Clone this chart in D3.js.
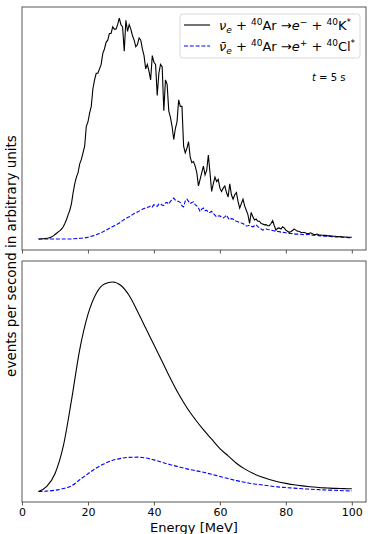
<!DOCTYPE html>
<html>
<head>
<meta charset="utf-8">
<script src="https://cdn.jsdelivr.net/npm/d3@7"></script>
<style>
  body { margin: 0; background: #fff; }
  text { font-family: "DejaVu Sans", sans-serif; }
</style>
</head>
<body>
<div id="chart"></div>
<script>
// energies of the noisy (top) spectrum, 0.5 MeV bins
const energyTop = d3.range(5, 100.01, 0.5);
// nu_e + Ar40 (top panel, relative to peak)
const nueTop = [
  0, 0, 0.001, 0.001, 0.002, 0.003, 0.004, 0.006, 0.01, 0.014,
  0.02, 0.026, 0.032, 0.038, 0.045, 0.055, 0.07, 0.088, 0.11, 0.13,
  0.16, 0.21, 0.25, 0.28, 0.3, 0.34, 0.36, 0.39, 0.42, 0.51,
  0.53, 0.57, 0.6, 0.68, 0.72, 0.75, 0.75, 0.77, 0.79, 0.84,
  0.86, 0.89, 0.9, 0.93, 0.93, 0.96, 0.95, 0.95, 0.97, 1.0,
  0.97, 0.96, 0.85, 0.99, 0.94, 0.97, 0.95, 0.92, 0.9, 0.87,
  0.88, 0.91, 0.9, 0.86, 0.83, 0.77, 0.79, 0.76, 0.72, 0.83,
  0.8, 0.79, 0.65, 0.75, 0.79, 0.78, 0.58, 0.72, 0.7, 0.58,
  0.55, 0.51, 0.45, 0.5, 0.53, 0.63, 0.6, 0.6, 0.42, 0.39,
  0.41, 0.44, 0.37, 0.345, 0.35, 0.33, 0.3, 0.24, 0.27, 0.3,
  0.33, 0.29, 0.31, 0.38, 0.3, 0.215, 0.25, 0.28, 0.26, 0.27,
  0.23, 0.215, 0.23, 0.24, 0.21, 0.19, 0.25, 0.2, 0.18, 0.2,
  0.21, 0.17, 0.14, 0.16, 0.18, 0.15, 0.13, 0.11, 0.07, 0.12,
  0.1, 0.086, 0.09, 0.08, 0.08, 0.07, 0.068, 0.064, 0.065, 0.06,
  0.06, 0.07, 0.083, 0.06, 0.04, 0.048, 0.05, 0.045, 0.055, 0.05,
  0.04, 0.035, 0.03, 0.033, 0.038, 0.045, 0.04, 0.035, 0.035, 0.03,
  0.028, 0.03, 0.027, 0.025, 0.025, 0.028, 0.024, 0.02, 0.02, 0.022,
  0.019, 0.018, 0.017, 0.016, 0.016, 0.015, 0.014, 0.014, 0.013, 0.012,
  0.012, 0.011, 0.01, 0.011, 0.01, 0.009, 0.009, 0.008, 0.008, 0.008,
  0.008
];
// anti nu_e + Ar40 (top panel)
const nuebarTop = [
  0, 0, 0, 0, 0, 0, 0, 0, 0, 0,
  0, 0, 0, 0, 0, 0, 0, 0, 0, 0,
  0, 0.001, 0.001, 0.002, 0.002, 0.003, 0.003, 0.004, 0.004, 0.006,
  0.008, 0.01, 0.012, 0.014, 0.016, 0.019, 0.022, 0.025, 0.028, 0.032,
  0.036, 0.04, 0.044, 0.048, 0.052, 0.056, 0.06, 0.064, 0.068, 0.072,
  0.077, 0.083, 0.088, 0.092, 0.097, 0.1, 0.105, 0.11, 0.115, 0.118,
  0.122, 0.126, 0.13, 0.134, 0.138, 0.14, 0.142, 0.146, 0.15, 0.145,
  0.155, 0.15, 0.148, 0.158, 0.16, 0.153, 0.152, 0.164, 0.165, 0.158,
  0.17, 0.178, 0.185, 0.176, 0.172, 0.17, 0.165, 0.15, 0.145, 0.172,
  0.18, 0.17, 0.16, 0.165, 0.168, 0.155, 0.15, 0.14, 0.124, 0.135,
  0.14, 0.128, 0.13, 0.12, 0.12, 0.125, 0.115, 0.108, 0.1, 0.104,
  0.105, 0.098, 0.095, 0.1, 0.108, 0.095, 0.086, 0.092, 0.09, 0.083,
  0.08, 0.078, 0.075, 0.072, 0.07, 0.064, 0.059, 0.06, 0.062, 0.058,
  0.055, 0.06, 0.064, 0.056, 0.05, 0.045, 0.04, 0.043, 0.045, 0.043,
  0.042, 0.04, 0.038, 0.036, 0.035, 0.034, 0.033, 0.031, 0.03, 0.029,
  0.028, 0.026, 0.025, 0.025, 0.024, 0.023, 0.022, 0.022, 0.022, 0.021,
  0.02, 0.019, 0.019, 0.02, 0.02, 0.018, 0.017, 0.017, 0.016, 0.016,
  0.015, 0.014, 0.013, 0.013, 0.012, 0.012, 0.011, 0.011, 0.01, 0.01,
  0.009, 0.009, 0.009, 0.008, 0.008, 0.008, 0.007, 0.007, 0.006, 0.006,
  0.006
];

// smooth (bottom) spectrum, 2.5 MeV steps
const energyBottom = d3.range(5, 100.1, 2.5);
const nueBottom = [
  0, 0.025, 0.085, 0.215, 0.435, 0.677, 0.845, 0.945, 0.99, 1.0,
  0.983, 0.935, 0.86, 0.78, 0.7, 0.62, 0.54, 0.465, 0.4, 0.345,
  0.295, 0.25, 0.205, 0.17, 0.135, 0.108, 0.087, 0.07, 0.057, 0.047,
  0.039, 0.032, 0.027, 0.023, 0.019, 0.017, 0.015, 0.014, 0.013
];
const nuebarBottom = [
  0, 0.002, 0.006, 0.014, 0.027, 0.056, 0.085, 0.112, 0.133, 0.149,
  0.158, 0.163, 0.164, 0.16, 0.151, 0.139, 0.128, 0.118, 0.108, 0.1,
  0.092, 0.082, 0.072, 0.062, 0.052, 0.044, 0.037, 0.032, 0.027, 0.022,
  0.019, 0.016, 0.013, 0.011, 0.009, 0.007, 0.006, 0.004, 0.003
];

const xTicks = [0, 20, 40, 60, 80, 100];

const W = 374, H = 534;
const left = 22, right = 366;

const svg = d3.select("#chart").append("svg")
    .attr("width", W).attr("height", H);

const x = d3.scaleLinear().domain([0, 104.3]).range([left, right]);

const panels = [
  {top: 7, bottom: 250, dom: [-0.05, 1.05], nue: nueTop, nuebar: nuebarTop, E: energyTop, curve: d3.curveLinear, labels: false},
  {top: 261, bottom: 502, dom: [-0.05, 1.1], nue: nueBottom, nuebar: nuebarBottom, E: energyBottom, curve: d3.curveMonotoneX, labels: true}
];

panels.forEach(function(p) {
    let y = d3.scaleLinear().domain(p.dom).range([p.bottom, p.top]);

    let line = d3.line()
        .x(function(d) { return x(d[0]); })
        .y(function(d) { return y(d[1]); })
        .curve(p.curve);

    svg.append("path")
        .datum(p.E.map(function(e, i) { return [e, p.nuebar[i]]; }))
        .attr("d", line)
        .attr("fill", "none")
        .attr("stroke", "#0000ff")
        .attr("stroke-width", 1.1)
        .attr("stroke-dasharray", "4,1.8");

    svg.append("path")
        .datum(p.E.map(function(e, i) { return [e, p.nue[i]]; }))
        .attr("d", line)
        .attr("fill", "none")
        .attr("stroke", "#000")
        .attr("stroke-width", 1.1);

    // frame
    svg.append("rect")
        .attr("x", left).attr("y", p.top)
        .attr("width", right - left).attr("height", p.bottom - p.top)
        .attr("fill", "none")
        .attr("stroke", "#444")
        .attr("stroke-width", 0.9);

    let ax = svg.append("g")
        .attr("transform", "translate(0," + p.bottom + ")")
        .call(d3.axisBottom(x).tickValues(xTicks).tickSize(3.5).tickPadding(2.5)
            .tickFormat(p.labels ? d3.format("d") : ""));
    ax.select(".domain").remove();
    ax.selectAll("line").attr("stroke", "#444").attr("stroke-width", 0.9);
    ax.selectAll("text")
        .attr("font-family", "DejaVu Sans")
        .attr("font-size", 11)
        .attr("fill", "#000");
});

// axis titles
svg.append("text")
    .attr("x", (left + right) / 2)
    .attr("y", 532)
    .attr("text-anchor", "middle")
    .attr("font-size", 13)
    .text("Energy [MeV]");

svg.append("text")
    .attr("transform", "translate(16,256) rotate(-90)")
    .attr("text-anchor", "middle")
    .attr("font-size", 13.5)
    .text("events per second in arbitrary units");

// legend
const lg = svg.append("g");
lg.append("rect")
    .attr("x", 180).attr("y", 14)
    .attr("width", 180).attr("height", 44)
    .attr("rx", 2.5)
    .attr("fill", "#fff")
    .attr("fill-opacity", 0.8)
    .attr("stroke", "#d6d6d6")
    .attr("stroke-width", 0.9);

lg.append("line")
    .attr("x1", 184).attr("x2", 210).attr("y1", 25).attr("y2", 25)
    .attr("stroke", "#000").attr("stroke-width", 1.1);
lg.append("line")
    .attr("x1", 184).attr("x2", 210).attr("y1", 46).attr("y2", 46)
    .attr("stroke", "#0000ff").attr("stroke-width", 1.1)
    .attr("stroke-dasharray", "4,1.8");

function legendEntry(yPos, nu, lepSign, nucleus) {
    let t = lg.append("text").attr("x", 219).attr("y", yPos).attr("font-size", 13);
    t.append("tspan").attr("font-style", "italic").text(nu);
    t.append("tspan").attr("font-style", "italic").attr("font-size", 9).attr("dy", 2.5).text("e");
    t.append("tspan").attr("dy", -2.5).text(" + ");
    t.append("tspan").attr("font-size", 9).attr("dy", -5).text("40");
    t.append("tspan").attr("dy", 5).text("Ar →");
    t.append("tspan").attr("font-style", "italic").text("e");
    t.append("tspan").attr("font-size", 9).attr("dy", -5).text(lepSign);
    t.append("tspan").attr("dy", 5).text(" + ");
    t.append("tspan").attr("font-size", 9).attr("dy", -5).text("40");
    t.append("tspan").attr("dy", 5).text(nucleus);
    t.append("tspan").attr("font-size", 9).attr("dy", -5).text("*");
}
legendEntry(30, "ν", "−", "K");
legendEntry(51, "ν\u0304", "+", "Cl");

const tt = svg.append("text").attr("x", 312).attr("y", 81).attr("font-size", 10);
tt.append("tspan").attr("font-style", "italic").text("t");
tt.append("tspan").text(" = 5 s");
</script>
</body>
</html>
